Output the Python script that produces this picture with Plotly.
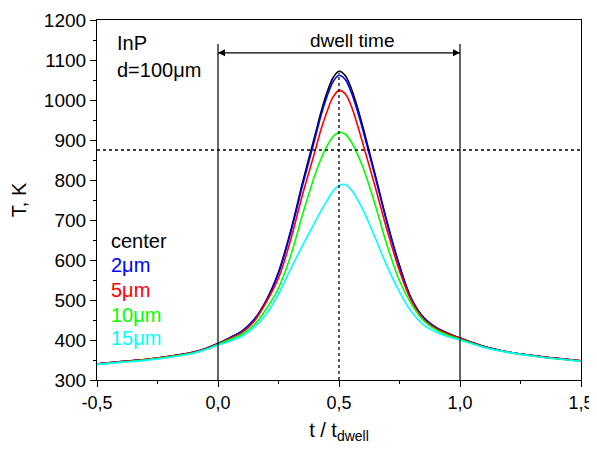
import plotly.graph_objects as go

# ---- data ----
t = [-0.5, -0.4, -0.3, -0.2, -0.1, -0.05, 0.0, 0.05, 0.1, 0.15, 0.2, 0.25, 0.3, 0.35, 0.4,
     0.425, 0.45, 0.475, 0.5, 0.525, 0.55, 0.575, 0.6, 0.65, 0.7, 0.75, 0.8, 0.85, 0.9, 0.95,
     1.0, 1.1, 1.2, 1.3, 1.4, 1.5]

T_center = [340, 346, 351, 359, 370, 379, 391, 406, 423, 452, 500, 570, 672, 795, 910,
            968, 1018, 1055, 1072, 1062, 1030, 984, 930, 812, 692, 586, 502, 456, 432, 417,
            405, 384, 370, 361, 354, 348]
T_2um = [340, 346, 351, 359, 370, 379, 391, 406, 422, 451, 498, 567, 668, 788, 902,
         960, 1008, 1045, 1062, 1052, 1020, 975, 922, 807, 689, 584, 501, 455, 431, 416,
         405, 384, 370, 361, 354, 348]
T_5um = [340, 346, 351, 359, 369, 378, 390, 404, 419, 447, 495, 555, 650, 765, 870,
         925, 970, 1007, 1024, 1016, 986, 940, 888, 782, 672, 573, 497, 452, 429, 415,
         404, 383, 370, 361, 354, 348]
T_10um = [339, 345, 350, 358, 368, 377, 389, 401, 415, 438, 478, 530, 610, 715, 812,
          852, 884, 908, 919, 915, 896, 866, 830, 737, 634, 548, 489, 448, 426, 412,
          402, 382, 369, 360, 353, 347]
T_15um = [339, 344, 349, 357, 367, 376, 387, 397, 410, 432, 465, 515, 577, 637, 694,
          722, 748, 772, 786, 789, 776, 753, 724, 655, 582, 520, 470, 438, 420, 408,
          400, 381, 369, 360, 353, 347]

series_names = ["center", "2μm", "5μm", "10μm", "15μm"]
series_values = [T_center, T_2um, T_5um, T_10um, T_15um]
series_colors = ["#000000", "#0000FF", "#FF0000", "#00FF00", "#00FFFF"]

x_tickvals = [-0.5, 0.0, 0.5, 1.0, 1.5]
x_ticktext = ["-0,5", "0,0", "0,5", "1,0", "1,5"]
y_tickvals = [300, 400, 500, 600, 700, 800, 900, 1000, 1100, 1200]

DWELL_START = 0.0
DWELL_END = 1.0
DWELL_LINE_TOP = 1140
ARROW_Y = 1118
T_MELT = 875
T_MID = 0.5
PEAK_CENTER = 1068

FONT = "Liberation Sans, Arial, sans-serif"

fig = go.Figure()
for name, vals, col in zip(series_names, series_values, series_colors):
    fig.add_trace(go.Scatter(x=t, y=vals, mode="lines", name=name,
                             line=dict(color=col, width=1.6, shape="spline", smoothing=1.0),
                             showlegend=False))

# dwell-time arrow (line with arrow heads at both ends)
fig.add_trace(go.Scatter(x=[DWELL_START, DWELL_END], y=[ARROW_Y, ARROW_Y], mode="lines+markers",
                         line=dict(color="black", width=1.2),
                         marker=dict(symbol=["arrow-left", "arrow-right"], size=7, color="black"),
                         showlegend=False, hoverinfo="skip"))

# reference lines
fig.add_shape(type="line", x0=DWELL_START, x1=DWELL_START, y0=300, y1=DWELL_LINE_TOP,
              line=dict(color="black", width=1.2))
fig.add_shape(type="line", x0=DWELL_END, x1=DWELL_END, y0=300, y1=DWELL_LINE_TOP,
              line=dict(color="black", width=1.2))
fig.add_shape(type="line", x0=-0.5, x1=1.5, y0=T_MELT, y1=T_MELT,
              line=dict(color="black", width=1.3, dash="dot"))
fig.add_shape(type="line", x0=T_MID, x1=T_MID, y0=300, y1=PEAK_CENTER,
              line=dict(color="black", width=1.3, dash="dot"))

fig.add_annotation(x=0.554, y=1150, xref="x", yref="y", text="dwell time", showarrow=False,
                   font=dict(size=19, color="black", family=FONT))

fig.add_annotation(x=-0.425, y=1142, xref="x", yref="y", text="InP", showarrow=False,
                   xanchor="left", font=dict(size=20, color="black", family=FONT))
fig.add_annotation(x=-0.425, y=1075, xref="x", yref="y", text="d=100μm", showarrow=False,
                   xanchor="left", font=dict(size=20, color="black", family=FONT))

label_y = [648, 587, 525, 462, 405]
for name, col, ly in zip(series_names, series_colors, label_y):
    fig.add_annotation(x=-0.45, y=ly, xref="x", yref="y", text=name, showarrow=False,
                       xanchor="left", font=dict(size=20, color=col, family=FONT))

fig.update_xaxes(range=[-0.5, 1.5], tickvals=x_tickvals, ticktext=x_ticktext, automargin=False,
                 showline=True, linecolor="black", linewidth=1.2, mirror=True,
                 ticks="outside", ticklen=6, tickwidth=1.2, tickcolor="black",
                 minor=dict(dtick=0.25, tick0=-0.5, ticks="outside", ticklen=3, tickwidth=1, tickcolor="black"),
                 showgrid=False, zeroline=False,
                 tickfont=dict(size=18, color="black", family=FONT),
                 title=dict(text="t / t<sub>dwell</sub>", font=dict(size=20, color="black", family=FONT),
                            standoff=12))
fig.update_yaxes(range=[300, 1200], tickvals=y_tickvals, automargin=False,
                 showline=True, linecolor="black", linewidth=1.2, mirror=True,
                 ticks="outside", ticklen=6, tickwidth=1.2, tickcolor="black",
                 minor=dict(dtick=50, tick0=300, ticks="outside", ticklen=3, tickwidth=1, tickcolor="black"),
                 showgrid=False, zeroline=False,
                 tickfont=dict(size=19, color="black", family=FONT),
                 title=dict(text="T, K", font=dict(size=20, color="black", family=FONT), standoff=14))

fig.update_layout(width=589, height=436, margin=dict(l=89, r=16, t=12, b=64),
                  paper_bgcolor="white", plot_bgcolor="white", showlegend=False)

fig.write_html("out.html")
